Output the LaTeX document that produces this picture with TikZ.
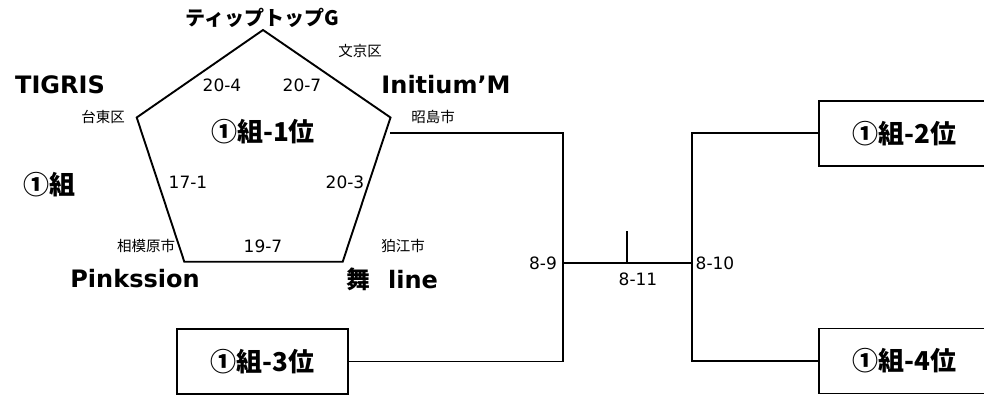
\documentclass[tikz,border=0pt]{standalone}
\usepackage{fontspec}
\setmainfont{DejaVu Sans}
\newfontfamily\jp{Noto Sans CJK JP}
\begin{document}
\begin{tikzpicture}[x=1pt,y=-1pt,
  edge/.style={line width=1.9pt},
  team/.style={font=\fontsize{24}{28}\selectfont\bfseries, inner sep=0pt},
  place/.style={font=\jp\fontsize{14.5}{17}\selectfont, inner sep=0pt},
  score/.style={font=\fontsize{17}{20}\selectfont, inner sep=0pt},
  rank/.style={font=\jp\fontsize{26}{30}\selectfont\bfseries, inner sep=0pt},
  rankbox/.style={rank, draw, line width=1.9pt, minimum width=171pt, minimum height=65pt, inner sep=0pt}]
\useasboundingbox (0,0) rectangle (984,398);
% pentagon
\coordinate (pT) at (263,30);
\coordinate (pR) at (390.5,117.5);
\coordinate (pBR) at (342.7,261.7);
\coordinate (pBL) at (184.3,261.7);
\coordinate (pL) at (136.7,117.5);
\draw[edge, line join=miter] (pT) -- (pR) -- (pBR) -- (pBL) -- (pL) -- cycle;
% texts around pentagon
\node[team, font=\jp\fontsize{20}{24}\selectfont\bfseries] (tip) at (262,18) {ティップトップG};
\node[place] (bunkyo) at (360,51) {文京区};
\node[team] (tigris) at (60,85) {TIGRIS};
\node[score] (s204) at (222,85) {20-4};
\node[score] (s207) at (302,85) {20-7};
\node[team] (initium) at (446,85) {Initium’M};
\node[place] (taito) at (103,117) {台東区};
\node[place] (akishima) at (433,117) {昭島市};
\node[rank] (r1) at (263,132) {①組-1位};
\node[rank] (grp) at (49,185) {①組};
\node[score] (s171) at (188,182) {17-1};
\node[score] (s203) at (345,182) {20-3};
\node[place] (sagami) at (146,246) {相模原市};
\node[score] (s197) at (263,246) {19-7};
\node[place] (komae) at (403,246) {狛江市};
\node[team] (pink) at (135,279) {Pinkssion};
\node[team] (mai) at (392,279) {{\jp 舞}\hspace{18pt}line};
% boxes
\node[rankbox] (b3) at (262.5,361.5) {①組-3位};
\node[rankbox] (b2) at (904.5,133.3) {①組-2位};
\node[rankbox] (b4) at (904.5,361) {①組-4位};
% bracket
\coordinate (w1) at (390,132.7);
\coordinate (j1) at (563,263);
\coordinate (j2) at (692,263);
\coordinate (tk) at (627,231);
\draw[edge] (w1) -| (j1) |- (b3.east);
\draw[edge] (j1) -- (j2);
\draw[edge] (tk) -- (tk |- j1);
\draw[edge] (b2.west) -| (j2) |- (b4.west);
\node[score] (m89) at (543,263) {8-9};
\node[score] (m811) at (638,279) {8-11};
\node[score] (m810) at (715,263) {8-10};
\end{tikzpicture}
\end{document}
